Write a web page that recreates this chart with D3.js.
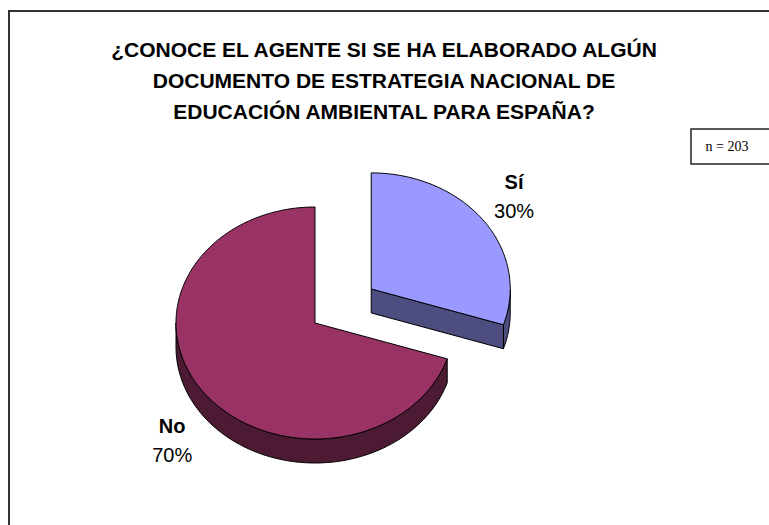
<!DOCTYPE html>
<html>
<head>
<meta charset="utf-8">
<script src="https://cdnjs.cloudflare.com/ajax/libs/d3/7.8.5/d3.min.js"></script>
<style>
  body { margin: 0; background: #fff; }
  svg { display: block; }
</style>
</head>
<body>
<div id="chart"></div>
<script>
// chart data
var titleLines = ["¿CONOCE EL AGENTE SI SE HA ELABORADO ALGÚN",
                  "DOCUMENTO DE ESTRATEGIA NACIONAL DE",
                  "EDUCACIÓN AMBIENTAL PARA ESPAÑA?"];
var labels = ["Sí", "No"];
var values = [30, 70];
var pctLabels = ["30%", "70%"];
var sampleNote = "n = 203";

var topColors = ["#9999ff", "#993366"];
var sideColors = ["#4d4d80", "#4d1a33"];
var exploded = [0.5, 0];

// size
var chart_width = 769;
var chart_height = 525;
var cx = 315, cy = 323, rx = 139, ry = 116, depth = 24;

var svg = d3.select("#chart").append("svg")
  .attr("width", chart_width)
  .attr("height", chart_height);

// outer frame (runs off right and bottom edge)
svg.append("rect")
  .attr("x", 9).attr("y", 11)
  .attr("width", 900).attr("height", 700)
  .attr("fill", "none")
  .attr("stroke", "#333")
  .attr("stroke-width", 2);

// title
svg.append("text")
  .attr("text-anchor", "middle")
  .attr("font-family", "'Liberation Sans', Arial, sans-serif")
  .attr("font-weight", "bold")
  .attr("font-size", 21)
  .selectAll("tspan").data(titleLines).enter().append("tspan")
  .attr("x", 384)
  .attr("y", function(d, i) { return 57 + i * 31; })
  .text(function(d) { return d; });

// n box
svg.append("rect")
  .attr("x", 691).attr("y", 129)
  .attr("width", 100).attr("height", 35)
  .attr("fill", "#fff")
  .attr("stroke", "#222")
  .attr("stroke-width", 1.5);
svg.append("text")
  .attr("x", 727).attr("y", 151)
  .attr("text-anchor", "middle")
  .attr("font-family", "'Liberation Serif', 'Times New Roman', serif")
  .attr("font-size", 14)
  .text(sampleNote);

var arcs = d3.pie().sort(null).value(function(d) { return d; })(values);

// project an angle (clockwise from 12 o'clock) onto the tilted ellipse
function pt(a, r, off, h) {
  return [cx + off[0] + rx * r * Math.sin(a), cy + off[1] - ry * r * Math.cos(a) + (h || 0)];
}
function rim(a0, a1, off, h) {
  var n = Math.max(2, Math.ceil(Math.abs(a1 - a0) / 0.02));
  return d3.range(n + 1).map(function(i) { return pt(a0 + (a1 - a0) * i / n, 1, off, h); });
}
var line = d3.line();

arcs.forEach(function(d, i) {
  var mid = (d.startAngle + d.endAngle) / 2;
  var off = [rx * exploded[i] * Math.sin(mid), -ry * exploded[i] * Math.cos(mid)];
  var g = svg.append("g");

  // front outer wall (visible between 90 and 270 degrees)
  var s0 = Math.max(d.startAngle, Math.PI / 2), s1 = Math.min(d.endAngle, 3 * Math.PI / 2);
  if (s1 > s0) {
    var pts = rim(s0, s1, off, 0).concat(rim(s1, s0, off, depth));
    g.append("path").attr("d", line(pts) + "Z")
      .attr("fill", sideColors[i]).attr("stroke", "#000").attr("stroke-width", 1)
      .attr("stroke-linejoin", "round");
  }
  // radial cut faces facing the viewer
  [[d.endAngle, Math.sin(d.endAngle) > 0.01], [d.startAngle, Math.sin(d.startAngle) < -0.01]].forEach(function(f) {
    if (!f[1]) return;
    var c = pt(0, 0, off, 0), e = pt(f[0], 1, off, 0);
    var pts = [c, e, [e[0], e[1] + depth], [c[0], c[1] + depth]];
    g.append("path").attr("d", line(pts) + "Z")
      .attr("fill", sideColors[i]).attr("stroke", "#000").attr("stroke-width", 1)
      .attr("stroke-linejoin", "round");
  });
  // top face
  var top = [pt(0, 0, off, 0)].concat(rim(d.startAngle, d.endAngle, off, 0));
  g.append("path").attr("d", line(top) + "Z")
    .attr("fill", topColors[i]).attr("stroke", "#000").attr("stroke-width", 1)
    .attr("stroke-linejoin", "round");

  // labels
  var lx = cx + off[0] + rx * 1.27 * Math.sin(mid);
  var ly = cy + off[1] - ry * 1.33 * Math.cos(mid) + (Math.cos(mid) < 0 ? depth * 1.2 : 0);
  var t = svg.append("text")
    .attr("text-anchor", "middle")
    .attr("font-family", "'Liberation Sans', Arial, sans-serif")
    .attr("font-size", 20);
  t.append("tspan").attr("x", lx).attr("y", ly - 9)
    .attr("font-weight", "bold").text(labels[i]);
  t.append("tspan").attr("x", lx).attr("y", ly + 20).text(pctLabels[i]);
});
</script>
</body>
</html>
